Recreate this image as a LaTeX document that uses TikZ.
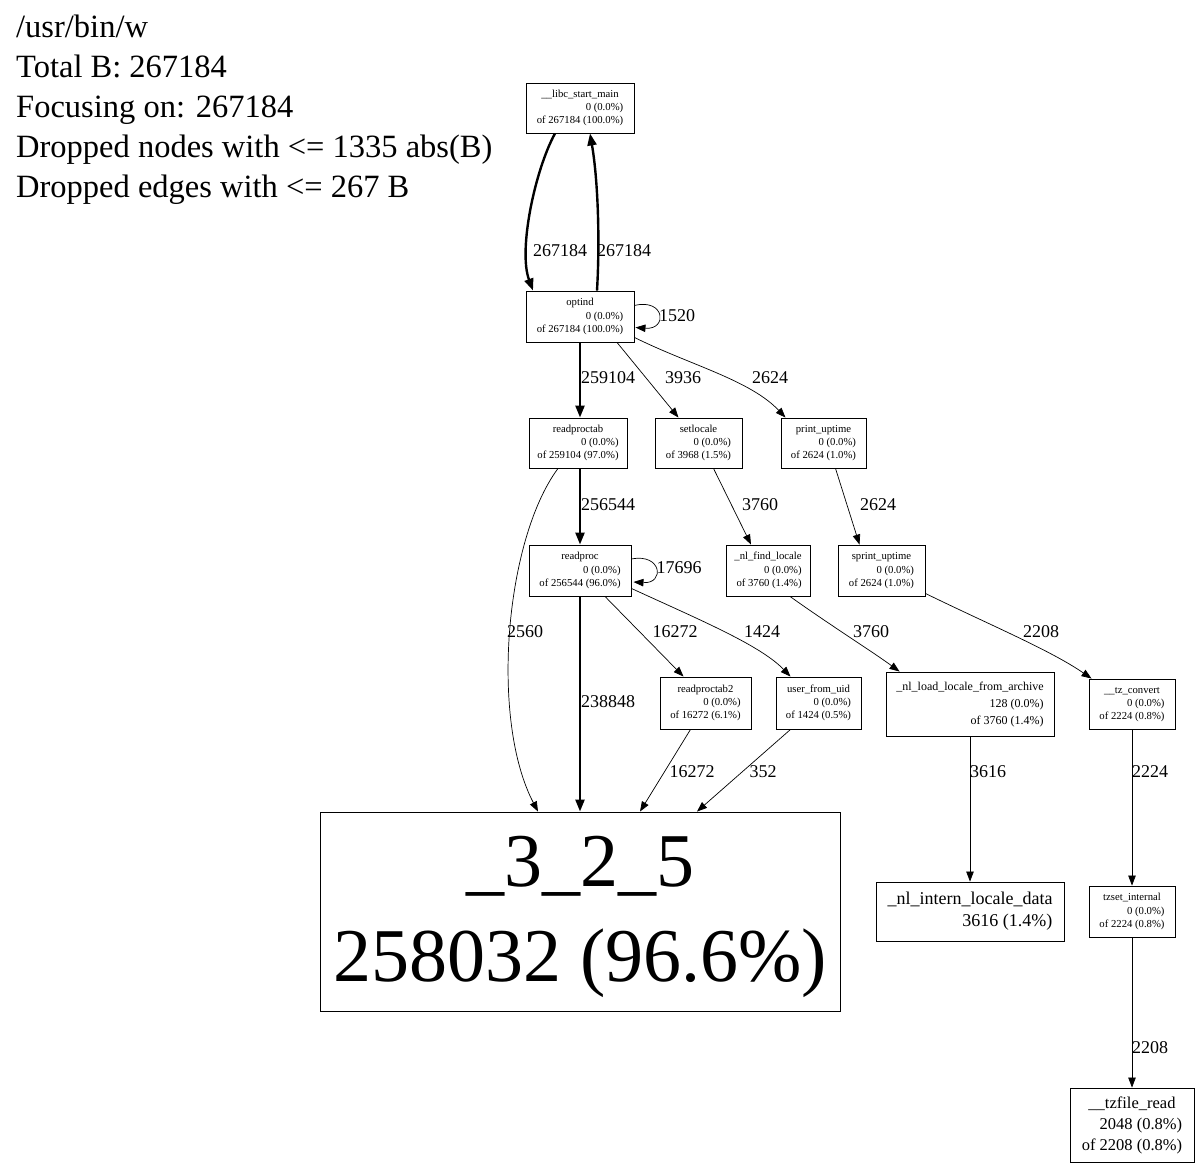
\documentclass[tikz,border=0pt]{standalone}
\usepackage{fontspec}
\setmainfont{Liberation Serif}
\usetikzlibrary{arrows.meta,calc}
\newcommand{\ntext}[3]{\begin{tabular}{@{}r@{}}\multicolumn{1}{@{}c@{}}{#1}\\#2\\#3\end{tabular}}
\newcommand{\ntwo}[2]{\begin{tabular}{@{}r@{}}\multicolumn{1}{@{}c@{}}{#1}\\#2\end{tabular}}
\tikzset{
  box/.style={draw, rectangle, inner sep=0pt, line width=0.9pt, font=\fontsize{10.7}{13.3}\selectfont},
  edge/.style={line width=0.7pt, -{Triangle[length=10pt,width=7.5pt]}},
  hedge/.style={line width=2.4pt, -{Triangle[length=12pt,width=9pt]}},
  elabel/.style={font=\fontsize{18}{20}\selectfont, inner sep=0pt},
  titletext/.style={anchor=base west, font=\fontsize{32.5}{40}\selectfont, inner sep=0pt}
}
\begin{document}
\begin{tikzpicture}[x=1pt,y=-1pt]
\useasboundingbox (0,0) rectangle (1200,1170);
% header
\node[titletext] (t1) at (16,37) {/usr/bin/w};
\node[titletext] (t2) at (16,77) {Total B: 267184};
\node[titletext] (t3) at (16,117) {Focusing on: 267184};
\node[titletext] (t4) at (16,157) {Dropped nodes with <= 1335 abs(B)};
\node[titletext] (t5) at (16,197) {Dropped edges with <= 267 B};
% nodes
\node[box, minimum width=108pt, minimum height=50pt] (libc) at (580,108) {\ntext{\_\_libc\_start\_main}{0 (0.0\%)}{of 267184 (100.0\%)}};
\node[box, minimum width=108pt, minimum height=51pt] (optind) at (580,316.5) {\ntext{optind}{0 (0.0\%)}{of 267184 (100.0\%)}};
\node[box, minimum width=98pt, minimum height=50pt] (rpt) at (578,443) {\ntext{readproctab}{0 (0.0\%)}{of 259104 (97.0\%)}};
\node[box, minimum width=87pt, minimum height=50pt] (setl) at (698.5,443) {\ntext{setlocale}{0 (0.0\%)}{of 3968 (1.5\%)}};
\node[box, minimum width=85pt, minimum height=50pt] (pu) at (823.5,443) {\ntext{print\_uptime}{0 (0.0\%)}{of 2624 (1.0\%)}};
\node[box, minimum width=102pt, minimum height=51pt] (rp) at (580,570.5) {\ntext{readproc}{0 (0.0\%)}{of 256544 (96.0\%)}};
\node[box, minimum width=84pt, minimum height=51pt] (nlf) at (768,570.5) {\ntext{\_nl\_find\_locale}{0 (0.0\%)}{of 3760 (1.4\%)}};
\node[box, minimum width=87pt, minimum height=51pt] (spu) at (881.5,570.5) {\ntext{sprint\_uptime}{0 (0.0\%)}{of 2624 (1.0\%)}};
\node[box, minimum width=91pt, minimum height=52pt] (rpt2) at (705.5,703) {\ntext{readproctab2}{0 (0.0\%)}{of 16272 (6.1\%)}};
\node[box, minimum width=85pt, minimum height=52pt] (ufu) at (818.5,703) {\ntext{user\_from\_uid}{0 (0.0\%)}{of 1424 (0.5\%)}};
\node[box, minimum width=168pt, minimum height=64pt, font=\fontsize{12}{17}\selectfont] (nll) at (970,704) {\ntext{\_nl\_load\_locale\_from\_archive}{128 (0.0\%)}{of 3760 (1.4\%)}};
\node[box, minimum width=86pt, minimum height=50pt] (tzc) at (1132,704) {\ntext{\_\_tz\_convert}{0 (0.0\%)}{of 2224 (0.8\%)}};
\node[box, minimum width=520pt, minimum height=199pt, align=center, font=\fontsize{76}{95}\selectfont] (big) at (580,911.5) {\rule{0pt}{62pt}\_3\_2\_5\\258032 (96.6\%)};
\node[box, minimum width=188pt, minimum height=59pt, font=\fontsize{18}{22}\selectfont] (nli) at (970,911.5) {\ntwo{\_nl\_intern\_locale\_data}{3616 (1.4\%)}};
\node[box, minimum width=86pt, minimum height=51pt] (tzs) at (1132,911.5) {\ntext{tzset\_internal}{0 (0.0\%)}{of 2224 (0.8\%)}};
\node[box, minimum width=124pt, minimum height=74pt, font=\fontsize{16.5}{21}\selectfont] (tzf) at (1132,1125) {\ntext{\_\_tzfile\_read}{2048 (0.8\%)}{of 2208 (0.8\%)}};
% edges
\draw[hedge] ($(libc.south)+(-25,0)$) .. controls (535,170) and (518,250) .. ($(optind.north)+(-47,0)$);
\draw[hedge] ($(optind.north)+(17,0)$) .. controls (600,240) and (598,180) .. ($(libc.south)+(10,0)$);
\draw[edge] ($(optind.east)+(0,-11)$) .. controls (665,298) and (668,330) .. ($(optind.east)+(1,11)$);
\draw[hedge] (optind.south) -- (optind.south |- rpt.north);
\draw[edge] ($(optind.south)+(37,0)$) -- ($(setl.north)+(-20,0)$);
\draw[edge] ($(optind.south east)+(0,-5)$) .. controls (690,365) and (750,380) .. ($(pu.north)+(-38,0)$);
\draw[hedge] (rpt.south -| rp.north) -- (rp.north);
\draw[edge] ($(rpt.south)+(-20,0)$) .. controls (505,540) and (490,720) .. ($(big.north)+(-42,0)$);
\draw[edge] ($(setl.south)+(15,0)$) -- ($(nlf.north)+(-17,0)$);
\draw[edge] ($(pu.south)+(12,0)$) -- ($(spu.north)+(-22,0)$);
\draw[edge] ($(rp.east)+(0,-11.5)$) .. controls (662,553) and (665,584) .. ($(rp.east)+(2,11.5)$);
\draw[hedge] (rp.south) -- (big.north);
\draw[edge] ($(rp.south)+(25,0)$) -- ($(rpt2.north)+(-22,0)$);
\draw[edge] ($(rp.south east)+(0,-8)$) .. controls (700,620) and (760,645) .. ($(ufu.north)+(-28,0)$);
\draw[edge] ($(nlf.south)+(22,0)$) .. controls (830,625) and (870,650) .. ($(nll.north west)+(14,0)$);
\draw[edge] ($(spu.south east)+(0,-3)$) .. controls (990,625) and (1050,650) .. ($(tzc.north west)+(3,0)$);
\draw[edge] ($(rpt2.south)+(-15,0)$) -- ($(big.north)+(60,0)$);
\draw[edge] ($(ufu.south)+(-28,0)$) -- ($(big.north)+(117,0)$);
\draw[edge] (nll.south) -- (nli.north);
\draw[edge] (tzc.south) -- (tzs.north);
\draw[edge] (tzs.south) -- (tzf.north);
% edge labels
\node[elabel] (l1) at (560,251) {267184};
\node[elabel] (l2) at (624,251) {267184};
\node[elabel] (l3) at (677,316) {1520};
\node[elabel] (l4) at (608,378) {259104};
\node[elabel] (l5) at (683,378) {3936};
\node[elabel] (l6) at (770,378) {2624};
\node[elabel] (l7) at (608,505) {256544};
\node[elabel] (l8) at (760,505) {3760};
\node[elabel] (l9) at (878,505) {2624};
\node[elabel] (l10) at (679,568) {17696};
\node[elabel] (l11) at (525,632) {2560};
\node[elabel] (l12) at (675,632) {16272};
\node[elabel] (l13) at (762,632) {1424};
\node[elabel] (l14) at (871,632) {3760};
\node[elabel] (l15) at (1041,632) {2208};
\node[elabel] (l16) at (608,702) {238848};
\node[elabel] (l17) at (692,772) {16272};
\node[elabel] (l18) at (763,772) {352};
\node[elabel] (l19) at (988,772) {3616};
\node[elabel] (l20) at (1150,772) {2224};
\node[elabel] (l21) at (1150,1048) {2208};
\end{tikzpicture}
\end{document}
